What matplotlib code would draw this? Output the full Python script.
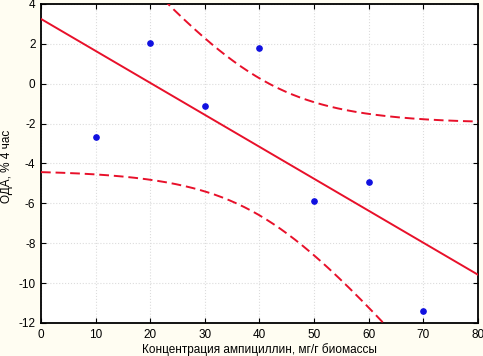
import numpy as np
import matplotlib
matplotlib.use("Agg")
import matplotlib.pyplot as plt

# concentration (mg/g biomass) and ODA response
conc = np.array([10, 20, 30, 40, 50, 60, 70])
oda = np.array([-2.67, 2.04, -1.11, 1.80, -5.88, -4.93, -11.40])

x_ticks = [0, 10, 20, 30, 40, 50, 60, 70, 80]
y_ticks = [-12, -10, -8, -6, -4, -2, 0, 2, 4]

T_95_DF5 = 2.571  # Student t, 0.975, n-2 = 5

plt.rcParams["font.family"] = ["Liberation Sans", "DejaVu Sans"]
plt.rcParams["axes.unicode_minus"] = False

# linear fit with 95% confidence band for the mean
slope, intercept = np.polyfit(conc, oda, 1)
resid = oda - (slope * conc + intercept)
n = len(conc)
s = np.sqrt(np.sum(resid ** 2) / (n - 2))
sxx = np.sum((conc - conc.mean()) ** 2)

xs = np.linspace(0, 80, 300)
fit = slope * xs + intercept
half = T_95_DF5 * s * np.sqrt(1 / n + (xs - conc.mean()) ** 2 / sxx)

fig = plt.figure(figsize=(4.83, 3.56), dpi=100, facecolor="#FFFDF2")
ax = fig.add_axes([0.0849, 0.0927, 0.9047, 0.8961])
ax.set_facecolor("white")

red = "#E8102A"
ax.plot(xs, fit, color=red, lw=1.4, zorder=3)
ax.plot(xs, fit + half, color=red, lw=1.4, dashes=(5, 2.5), zorder=3)
ax.plot(xs, fit - half, color=red, lw=1.4, dashes=(5, 2.5), zorder=3)
ax.plot(conc, oda, "o", color="#1010E0", markersize=3.8, zorder=4)

ax.set_xlim(0, 80)
ax.set_ylim(-12, 4)
ax.set_xticks(x_ticks)
ax.set_yticks(y_ticks)
ax.grid(True, color="#DCDCDC", linestyle=":", linewidth=0.8)
ax.tick_params(direction="in", top=True, right=True, length=3.5,
               width=0.8, labelsize=8.5, pad=4, colors="black")
for sp in ax.spines.values():
    sp.set_linewidth(1.3)

ax.set_xlabel("Концентрация ампициллин, мг/г биомассы", fontsize=8.5, labelpad=2)
ax.set_ylabel("ОДА, % 4 час", fontsize=8.5)
ax.yaxis.set_label_coords(-0.063, 0.49)

fig.savefig("out.png", dpi=100, facecolor=fig.get_facecolor())
